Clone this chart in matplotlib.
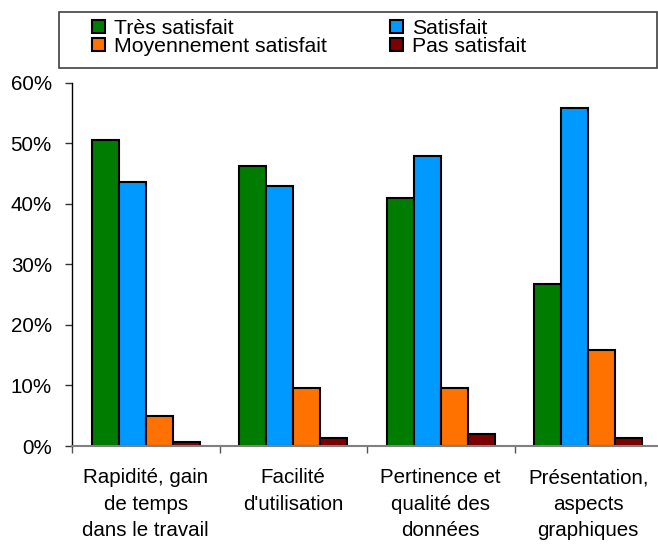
import matplotlib
matplotlib.use("Agg")
import matplotlib.pyplot as plt
import numpy as np
from matplotlib.ticker import PercentFormatter, FixedLocator
from matplotlib.patches import Rectangle, Patch

plt.rcParams['font.family'] = ['Liberation Sans', 'DejaVu Sans']

categories = ["Rapidité, gain\nde temps\ndans le travail",
              "Facilité\nd'utilisation",
              "Pertinence et\nqualité des\ndonnées",
              "Présentation,\naspects\ngraphiques"]
series_names = ["Très satisfait", "Satisfait", "Moyennement satisfait", "Pas satisfait"]
tres_satisfait = [50.5, 46.3, 41.0, 26.8]
satisfait = [43.6, 43.0, 47.9, 55.9]
moyennement = [5.0, 9.6, 9.6, 15.9]
pas_satisfait = [0.7, 1.3, 2.0, 1.3]
colors = ["#007D00", "#0099FF", "#FF7200", "#7D0000"]
yticks = [0, 10, 20, 30, 40, 50, 60]

W, H = 658, 546
fig = plt.figure(figsize=(W / 100, H / 100), dpi=100)
ax = fig.add_axes([72 / W, 1 - 446 / H, 590 / W, (446 - 82.7) / H])

fs = 14.8
x = np.arange(len(categories))
bw = 0.183
data = [tres_satisfait, satisfait, moyennement, pas_satisfait]
for i, (vals, c) in enumerate(zip(data, colors)):
    ax.bar(x + (i - 1.5) * bw, vals, bw, color=c, edgecolor='black',
           linewidth=1.5, label=series_names[i], zorder=3)

ax.set_xlim(-0.5, 3.5)
ax.set_ylim(0, 60)
ax.yaxis.set_major_locator(FixedLocator(yticks))
ax.yaxis.set_major_formatter(PercentFormatter(xmax=100, decimals=0))
ax.tick_params(axis='y', direction='out', length=5, width=1, color='#333333',
               labelsize=fs, pad=9.5, labelcolor='black')

ax.set_xticks([-0.5, 0.5, 1.5, 2.5, 3.5])
ax.set_xticklabels([])
ax.tick_params(axis='x', which='major', direction='out', length=5, width=1, color='#555555')
ax.set_xticks(x, minor=True)
ax.set_xticklabels(categories, minor=True, fontsize=fs, linespacing=1.5)
ax.tick_params(axis='x', which='minor', length=0, pad=16)

for s in ['top', 'right']:
    ax.spines[s].set_visible(False)
ax.spines['left'].set_color('black')
ax.spines['left'].set_linewidth(1)
ax.spines['bottom'].set_color('#808080')
ax.spines['bottom'].set_linewidth(1.5)
ax.spines['bottom'].set_zorder(4)

# legend
lfs = 15.3
handles = [Patch(facecolor=c, edgecolor='black', linewidth=1.5) for c in colors]
order = [0, 2, 1, 3]
fig.legend([handles[i] for i in order], [series_names[i] for i in order],
           ncol=2, loc='upper left', bbox_to_anchor=(92 / W, 1 - 19 / H),
           bbox_transform=fig.transFigure, frameon=False, fontsize=lfs,
           handlelength=0.62, handleheight=0.62, handletextpad=0.4,
           columnspacing=3.0, labelspacing=-0.05, borderpad=0, borderaxespad=0)
fig.add_artist(Rectangle((59 / W, 1 - 68 / H), (657 - 59) / W, 56 / H,
                         transform=fig.transFigure, fill=False,
                         edgecolor='#404040', linewidth=1.2))

fig.savefig("out.png", dpi=100)
